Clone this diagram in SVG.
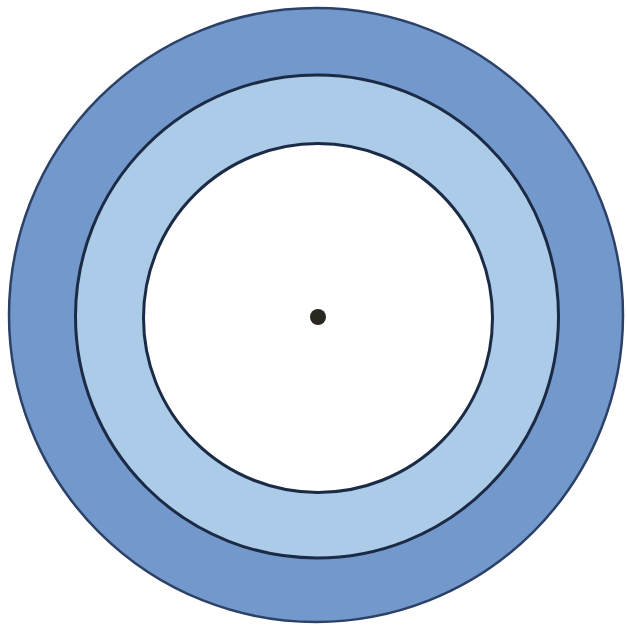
<svg xmlns="http://www.w3.org/2000/svg" width="627" height="632" viewBox="0 0 627 632">
<style>
.edge{stroke:#1c2b45;stroke-width:3}
</style>
<rect width="627" height="632" fill="#ffffff"/>
<g id="outer-ring"><circle cx="316" cy="315" r="307" fill="#7399cc" stroke="#2c4168" stroke-width="2.5"/></g>
<g id="middle-ring"><circle cx="317" cy="316.5" r="241.5" fill="#abcbe9" class="edge"/></g>
<g id="inner-disc"><circle cx="318" cy="318" r="174.5" fill="#ffffff" class="edge"/></g>
<g id="center-dot"><circle cx="318" cy="317" r="8" fill="#2a2620"/></g>
<g id="connectors"></g>
</svg>
